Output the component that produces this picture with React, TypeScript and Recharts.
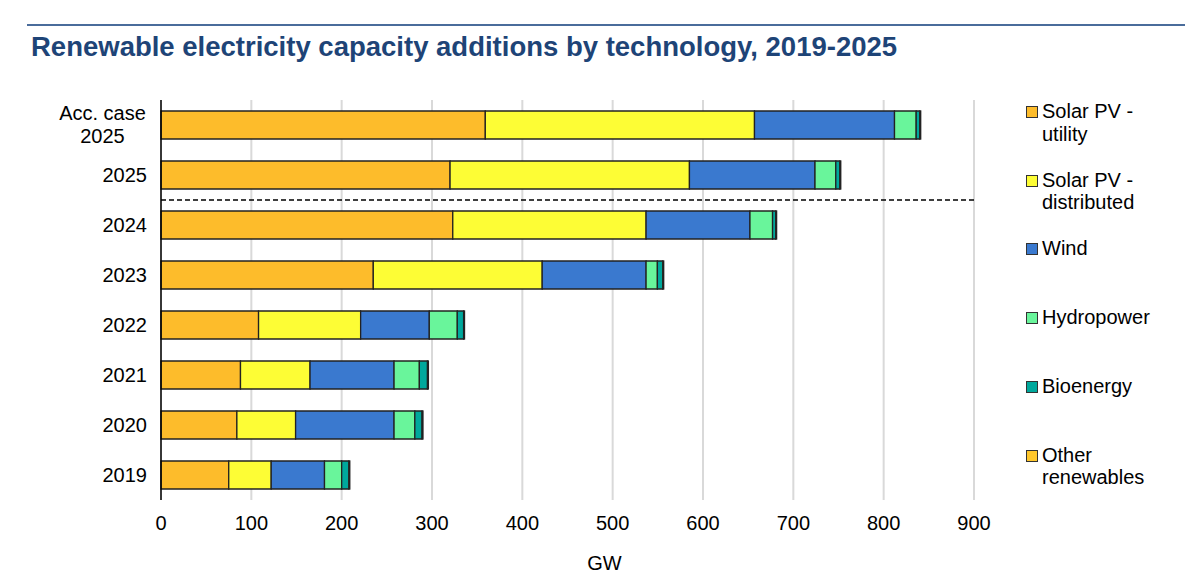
import React from 'react'
import { BarChart, Bar, XAxis, YAxis, CartesianGrid, Legend, ReferenceLine, Label } from 'recharts'

const categories = ['Acc. case 2025', '2025', '2024', '2023', '2022', '2021', '2020', '2019']
const solarUtility = [359, 320, 323, 235, 108, 88, 84, 75]
const solarDistributed = [298, 265, 214, 187, 113, 77, 65, 47]
const wind = [155, 139, 115, 115, 76, 93, 109, 59]
const hydropower = [24, 23, 25, 12.5, 31, 28, 23, 19]
const bioenergy = [4, 4.5, 3.5, 6, 7, 9, 8, 8]
const otherRenewables = [1, 1, 1, 1, 1, 1, 1, 1]
const xTicks = [0, 100, 200, 300, 400, 500, 600, 700, 800, 900]

const series = [
  { key: 'utility', name: 'Solar PV -\nutility', color: '#FDBC2B', values: solarUtility },
  { key: 'distributed', name: 'Solar PV -\ndistributed', color: '#FDFD35', values: solarDistributed },
  { key: 'wind', name: 'Wind', color: '#3A79CF', values: wind },
  { key: 'hydro', name: 'Hydropower', color: '#69F59B', values: hydropower },
  { key: 'bio', name: 'Bioenergy', color: '#00A89C', values: bioenergy },
  { key: 'other', name: 'Other\nrenewables', color: '#FFC72C', values: otherRenewables },
]

const data = categories.map((name, i) => {
  const row: Record<string, string | number> = { name }
  series.forEach(s => { row[s.key] = s.values[i] })
  return row
})

const font = '"Liberation Sans", Arial, sans-serif'

function YTick({ x, y, payload }: any) {
  const label: string = payload.value
  if (label === 'Acc. case 2025') {
    return (
      <text x={x - 44.5} y={y} textAnchor="middle" fontSize={20} fill="#000" fontFamily={font}>
        <tspan x={x - 44.5} dy={-5}>Acc. case</tspan>
        <tspan x={x - 44.5} dy={23}>2025</tspan>
      </text>
    )
  }
  return (
    <text x={x} y={y} dy={7} textAnchor="end" fontSize={20} fill="#000" fontFamily={font}>{label}</text>
  )
}

function LegendContent() {
  return (
    <div style={{ position: 'relative', width: 170, height: 400, fontFamily: font }}>
      {series.map((s, i) => (
        <div key={s.key} style={{ position: 'absolute', left: 0, top: i * 68.7, display: 'flex', alignItems: 'flex-start' }}>
          <div style={{ width: 10, height: 10, marginTop: 6, background: s.color, border: '1.5px solid #333', flexShrink: 0 }} />
          <div style={{ marginLeft: 4, fontSize: 20, lineHeight: '22.5px', color: '#000', whiteSpace: 'pre' }}>{s.name}</div>
        </div>
      ))}
    </div>
  )
}

export default function App() {
  return (
    <div style={{ position: 'absolute', left: 0, top: 0, width: 1200, height: 574, background: '#fff', fontFamily: font }}>
      <div style={{ position: 'absolute', left: 27, top: 24, width: 1158, height: 2, background: '#4A6C9B' }} />
      <div style={{ position: 'absolute', left: 31, top: 31, fontSize: 27.5, fontWeight: 'bold', color: '#1E4477', whiteSpace: 'nowrap' }}>
        Renewable electricity capacity additions by technology, 2019-2025
      </div>
      <BarChart
        width={1200}
        height={574}
        data={data}
        layout="vertical"
        margin={{ top: 100, right: 56, left: 11, bottom: 0 }}
        barCategoryGap={11}
      >
        <CartesianGrid horizontal={false} stroke="#d9d9d9" strokeWidth={2} />
        <XAxis
          type="number"
          domain={[0, 900]}
          ticks={xTicks}
          height={74}
          axisLine={false}
          tickLine={false}
          tickMargin={10}
          tick={{ fontSize: 20, fill: '#000', fontFamily: font }}
        >
          <Label value="GW" position="insideBottom" offset={4} dx={37} fontSize={20} fill="#000" fontFamily={font} />
        </XAxis>
        <YAxis
          type="category"
          dataKey="name"
          width={150}
          tickLine={false}
          tickSize={0}
          tickMargin={14}
          axisLine={{ stroke: '#000', strokeWidth: 1.5 }}
          tick={<YTick />}
          interval={0}
        />
        <Legend
          layout="vertical"
          align="right"
          verticalAlign="top"
          content={<LegendContent />}
          wrapperStyle={{ left: 1026, top: 100, width: 170 }}
        />
        {series.map(s => (
          <Bar
            key={s.key}
            dataKey={s.key}
            name={s.name}
            stackId="a"
            fill={s.color}
            stroke="#222"
            strokeWidth={1.3}
            barSize={28}
            isAnimationActive={false}
          />
        ))}
        <ReferenceLine y="2024" position="start" stroke="#000" strokeWidth={1.5} strokeDasharray="5 3" />
      </BarChart>
    </div>
  )
}
